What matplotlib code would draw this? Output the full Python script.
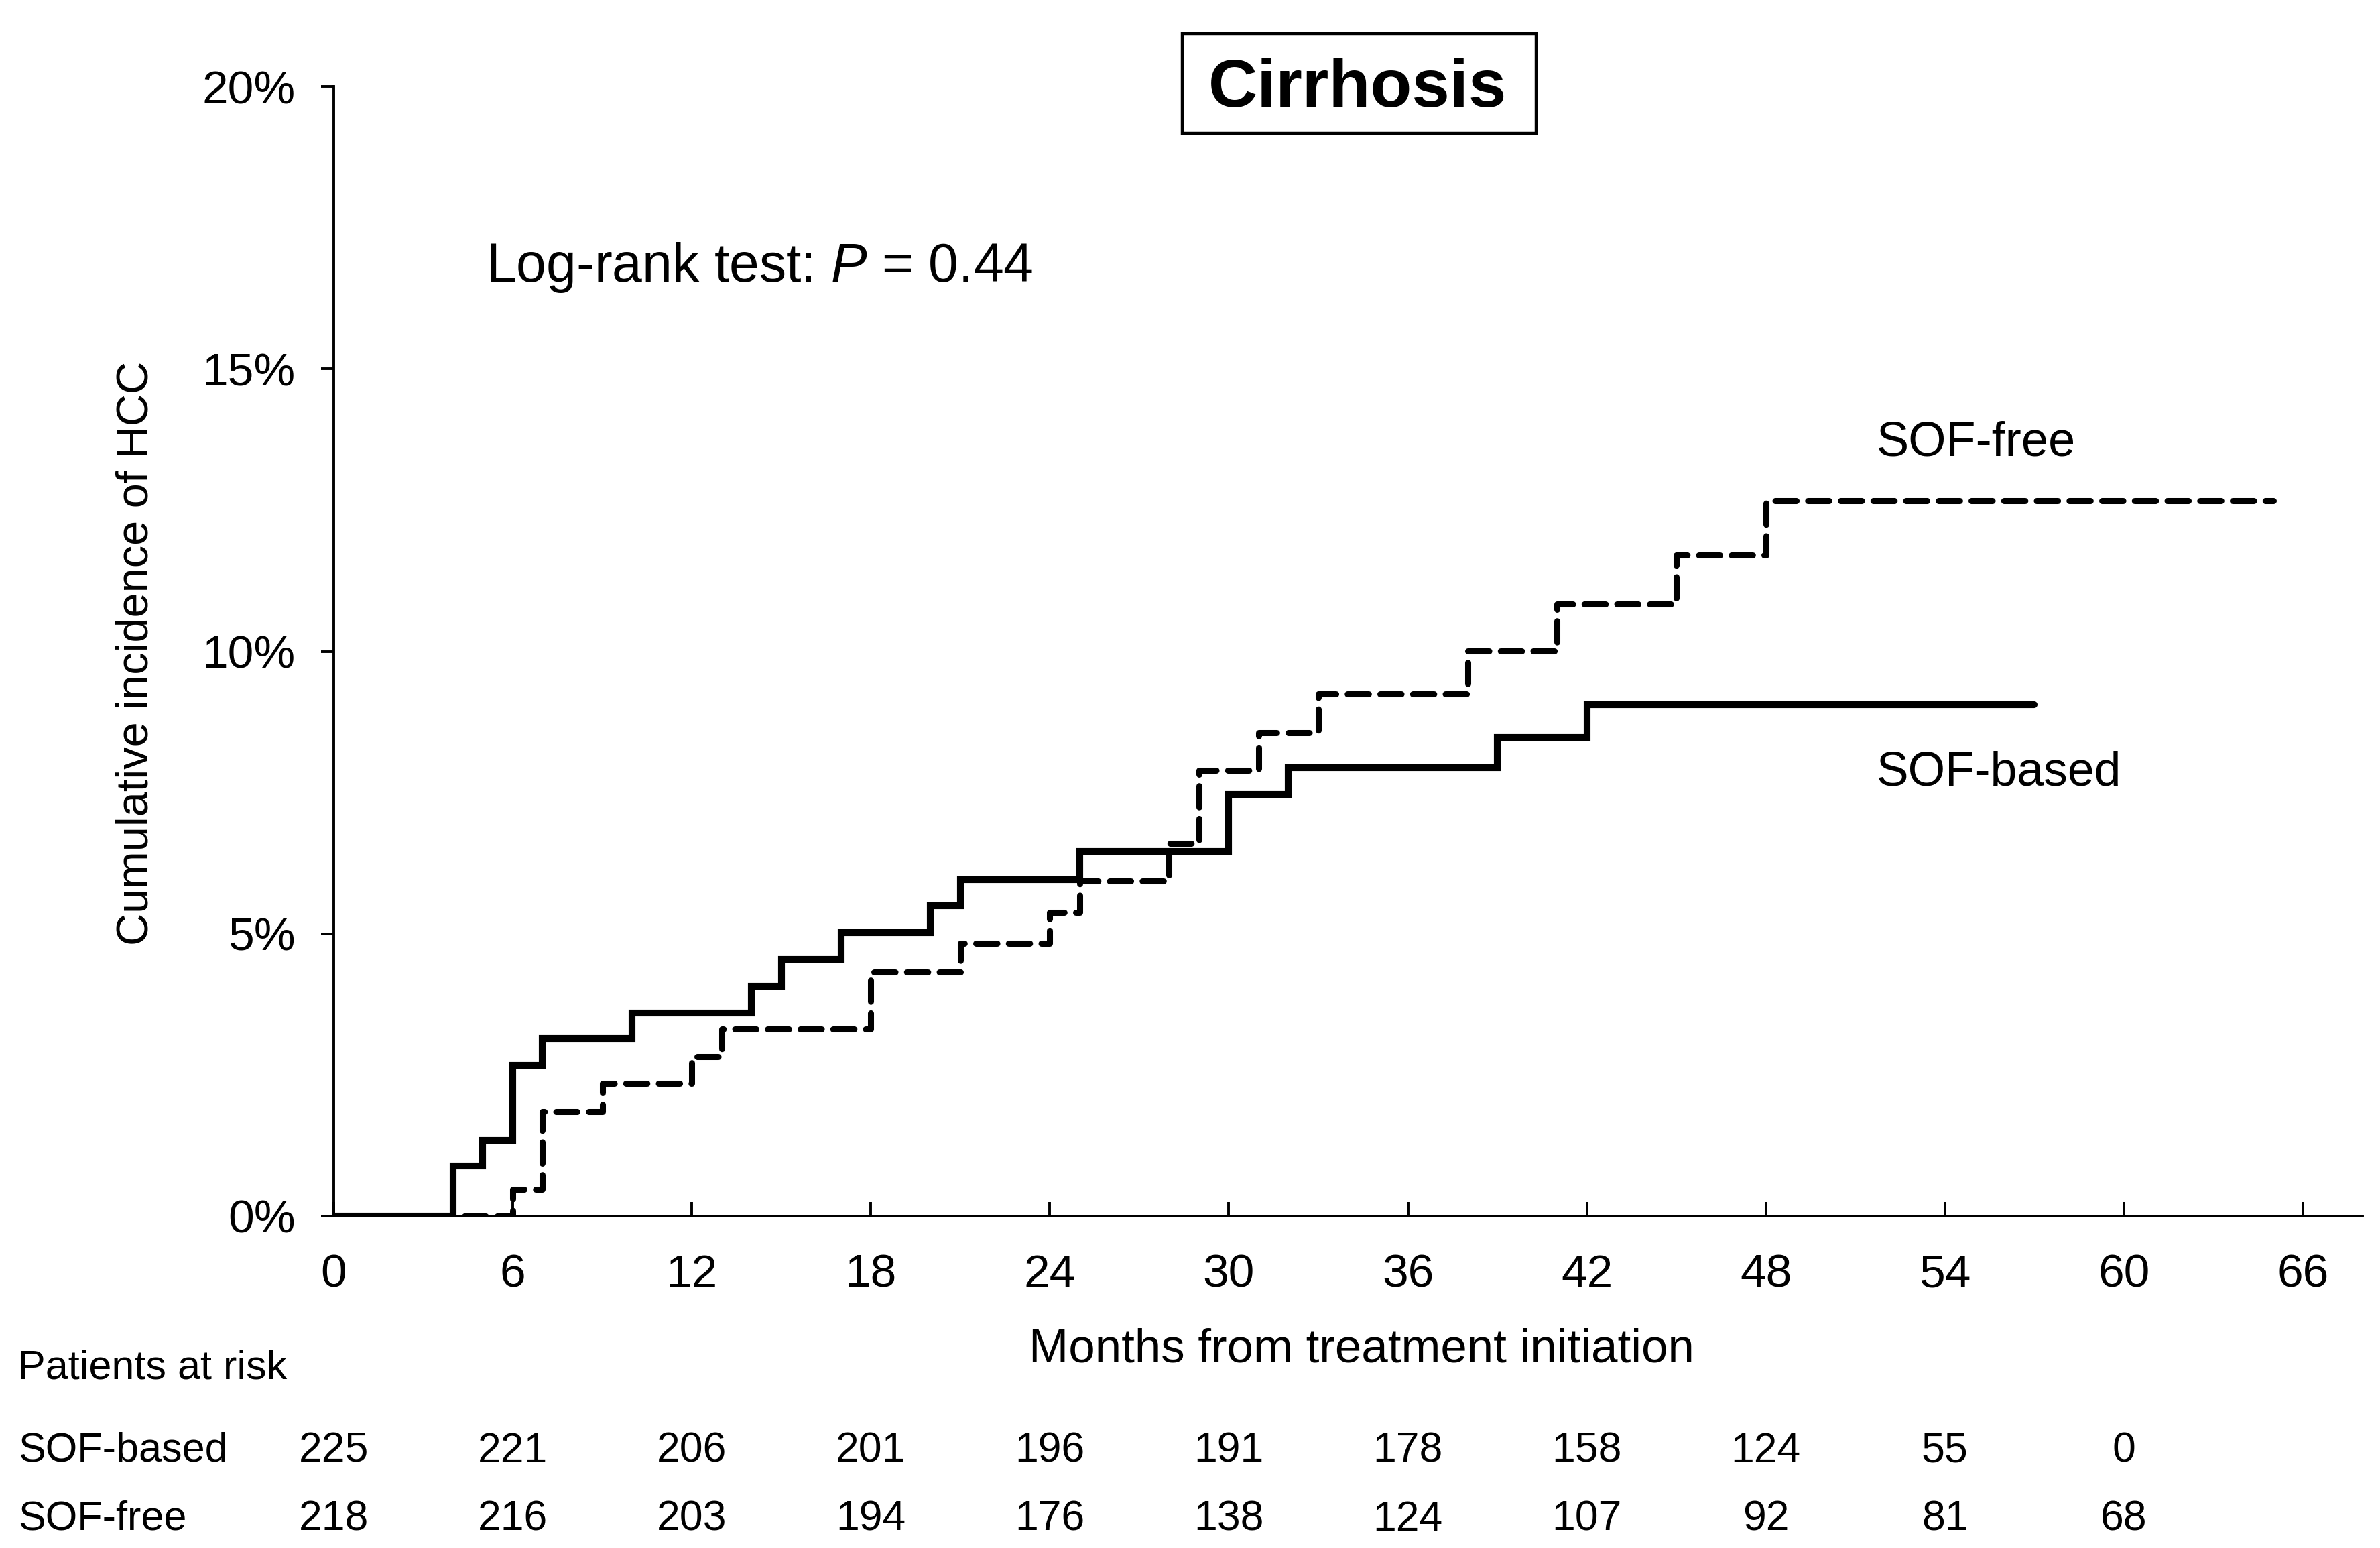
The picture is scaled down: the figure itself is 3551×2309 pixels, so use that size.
import matplotlib
matplotlib.use("Agg")
import matplotlib.pyplot as plt
from matplotlib import font_manager
from matplotlib.patches import Rectangle
from matplotlib.transforms import blended_transform_factory

names = {f.name for f in font_manager.fontManager.ttflist}
FONT = "Liberation Sans Narrow" if "Liberation Sans Narrow" in names else "Liberation Sans"
plt.rcParams['font.family'] = [FONT, 'DejaVu Sans']
plt.rcParams['mathtext.fontset'] = 'custom'
plt.rcParams['mathtext.rm'] = FONT
plt.rcParams['mathtext.it'] = FONT + ':italic'

# ---- data ----
based_t = [0, 4, 5, 6, 7, 10, 14, 15, 17, 20, 21, 25, 30, 32, 39, 42, 57]
based_y = [0, 0.89, 1.34, 2.67, 3.14, 3.60, 4.07, 4.55, 5.02, 5.49, 5.96, 6.46, 7.46, 7.94, 8.48, 9.06, 9.06]
free_t = [0, 6, 7, 9, 12, 13, 18, 21, 24, 25, 28, 29, 31, 33, 38, 41, 45, 48, 65]
free_y = [0, 0.47, 1.85, 2.35, 2.83, 3.31, 4.32, 4.83, 5.38, 5.93, 6.60, 7.89, 8.56, 9.25, 10.01, 10.84, 11.70, 12.67, 12.67]

x_ticks = [0, 6, 12, 18, 24, 30, 36, 42, 48, 54, 60, 66]
y_ticks = [0, 5, 10, 15, 20]
y_tick_labels = ["0%", "5%", "10%", "15%", "20%"]
risk_times = [0, 6, 12, 18, 24, 30, 36, 42, 48, 54, 60]
risk_based = [225, 221, 206, 201, 196, 191, 178, 158, 124, 55, 0]
risk_free = [218, 216, 203, 194, 176, 138, 124, 107, 92, 81, 68]

W, H = 3551, 2309
fig = plt.figure(figsize=(W / 100, H / 100), dpi=100)
ax = fig.add_axes([0.1402, 0.2144, 0.9927 - 0.1402, 0.9441 - 0.2144])

ax.step(based_t, based_y, where='post', color='black', lw=7.3, solid_capstyle='round', solid_joinstyle='miter')
ax.step(free_t, free_y, where='post', color='black', lw=6.5, linestyle=(0, (3.5, 1.9)),
        dash_capstyle='round')

ax.set_xlim(0, 68)
ax.set_ylim(0, 20)
ax.spines['top'].set_visible(False)
ax.spines['right'].set_visible(False)
for s in ('left', 'bottom'):
    ax.spines[s].set_linewidth(2.8)
ax.set_xticks(x_ticks)
ax.set_yticks(y_ticks)
ax.set_yticklabels(y_tick_labels)
ax.tick_params(axis='x', direction='in', length=15, width=2.8, pad=40, labelsize=50)
ax.tick_params(axis='y', direction='out', length=14, width=2.8, pad=27, labelsize=50)

ax.text(5.1, 16.8, "Log-rank test: $\\it{P}$ = 0.44", fontsize=58, va='center', ha='left')
ax.text(51.7, 13.69, "SOF-free", fontsize=52, va='center', ha='left')
ax.text(51.7, 7.85, "SOF-based", fontsize=51.5, va='center', ha='left')

fig.patches.append(Rectangle((0.4968, 0.9138), 0.1487, 0.0645, transform=fig.transFigure,
                             fc='white', ec='black', lw=3.2))
fig.text(0.5705, 0.9313, "Cirrhosis", fontsize=73, fontweight='bold', ha='center', va='baseline',
         family=['Liberation Sans', 'DejaVu Sans'])

fig.text(0.0574, 0.578, "Cumulative incidence of HCC", rotation=90, fontsize=48, ha='center', va='center')
fig.text(0.572, 0.128, "Months from treatment initiation", fontsize=51, ha='center', va='center')

fig.text(0.0077, 0.116, "Patients at risk", fontsize=44, ha='left', va='center')
fig.text(0.0077, 0.0627, "SOF-based", fontsize=44, ha='left', va='center')
fig.text(0.0077, 0.0185, "SOF-free", fontsize=44, ha='left', va='center')

tr = blended_transform_factory(ax.transData, fig.transFigure)
for t, nb, nf in zip(risk_times, risk_based, risk_free):
    ax.text(t, 0.0627, str(nb), transform=tr, fontsize=45, ha='center', va='center', clip_on=False)
    ax.text(t, 0.0185, str(nf), transform=tr, fontsize=45, ha='center', va='center', clip_on=False)

fig.savefig("out.png", dpi=100, facecolor='white')
